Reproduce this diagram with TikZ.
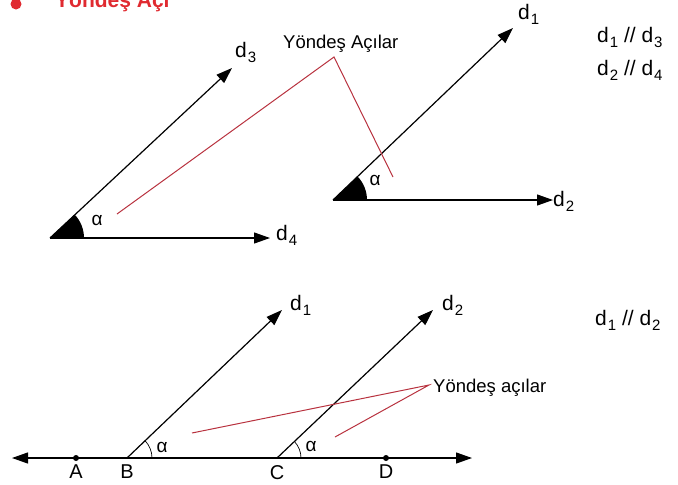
\documentclass[tikz,border=0pt]{standalone}
\usepackage{fontspec}
\setmainfont{Liberation Sans}
\usepackage{tikz}
\usepackage{xcolor}
\usetikzlibrary{arrows.meta,positioning}
\definecolor{Title_Red}{HTML}{E02A30}
\definecolor{Line_Red}{HTML}{B8323F}
\newcommand{\dsub}[1]{d\hspace{1pt}\raisebox{-5.5pt}{\fontsize{15}{15}\selectfont #1}}

\begin{document}
\begin{tikzpicture}[x=1pt, y=-1pt, >={Triangle[length=16pt,width=11pt]},
    ray/.style={->, line width=1.2pt},
    redline/.style={Line_Red, line width=1pt},
    dlab/.style={font=\fontsize{21}{21}\selectfont, anchor=base west, inner sep=0pt},
    alab/.style={font=\fontsize{19}{19}\selectfont, inner sep=0pt},
    note/.style={font=\fontsize{18.5}{18.5}\selectfont, anchor=base west, inner sep=0pt}]
    \useasboundingbox (0,0) rectangle (678,485);

    % Title
    \fill[Title_Red] (16,4) circle (5.5);
    \node[Title_Red, font=\fontsize{21}{21}\selectfont\bfseries, anchor=base west, inner sep=0pt] (title) at (55,7) {Yöndeş Açı};

    % Left angle: d3 and d4
    \coordinate (O34) at (50,238);
    \coordinate (E3) at (232,68);
    \coordinate (E4) at (270,238);
    \fill (O34) -- ++(34,0) arc (0:-43.5:34) -- cycle;
    \draw[ray] (O34) -- (E3);
    \draw[ray] (O34) -- (E4);
    \node[dlab] (d3) at (235,57) {\dsub{3}};
    \node[dlab] (d4) at (276,240) {\dsub{4}};
    \node[alab] (a34) at (97,220) {α};

    % Right angle: d1 and d2
    \coordinate (O12) at (333,200);
    \coordinate (E1) at (513,28);
    \coordinate (E2) at (553,200);
    \fill (O12) -- ++(34,0) arc (0:-43.5:34) -- cycle;
    \draw[ray] (O12) -- (E1);
    \draw[ray] (O12) -- (E2);
    \node[dlab] (d1) at (518,19) {\dsub{1}};
    \node[dlab] (d2) at (553,206) {\dsub{2}};
    \node[alab] (a12) at (375,180) {α};

    % Pointer to the angles
    \node[note] (yon) at (283,48) {Yöndeş Açılar};
    \coordinate (P) at (334,57);
    \coordinate (PL) at (117,214);
    \coordinate (PR) at (393,177);
    \draw[redline] (PL) -- (P) -- (PR);

    % Parallel notes
    \node[dlab] (par13) at (597,42) {\dsub{1} // \dsub{3}};
    \node[dlab] (par24) at (597,75) {\dsub{2} // \dsub{4}};

    % Bottom: transversal line
    \coordinate (L) at (12,458);
    \coordinate (R) at (472,458);
    \draw[<->, line width=1.2pt] (L) -- (R);
    \coordinate (A) at (76,458);
    \coordinate (B) at (127,458);
    \coordinate (C) at (277,458);
    \coordinate (D) at (386,458);
    \fill (A) circle (3);
    \fill (D) circle (3);
    \foreach \p in {A,B,C,D}
        \node[font=\fontsize{20}{20}\selectfont, below=7pt of \p, inner sep=0pt] (lab\p) {\p};

    % Parallel rays from B and C
    \coordinate (F1) at (282,310);
    \coordinate (F2) at (433,310);
    \draw[ray] (B) -- (F1);
    \draw[ray] (C) -- (F2);
    \draw[line width=0.7pt] ([xshift=25pt]B) arc (0:-43.5:25);
    \draw[line width=0.7pt] ([xshift=24pt]C) arc (0:-43.5:24);
    \node[alab] (aB) at (162,447) {α};
    \node[alab] (aC) at (311,446) {α};
    \node[dlab] (dB1) at (290,310) {\dsub{1}};
    \node[dlab] (dC2) at (442,310) {\dsub{2}};

    % Pointer to the angles
    \node[note] (yon2) at (433,392) {Yöndeş açılar};
    \coordinate (Q) at (429,385);
    \coordinate (QB) at (192,433);
    \coordinate (QC) at (335,437);
    \draw[redline] (QB) -- (Q) -- (QC);

    % Parallel note
    \node[dlab] (par12) at (595,325) {\dsub{1} // \dsub{2}};

\end{tikzpicture}
\end{document}
